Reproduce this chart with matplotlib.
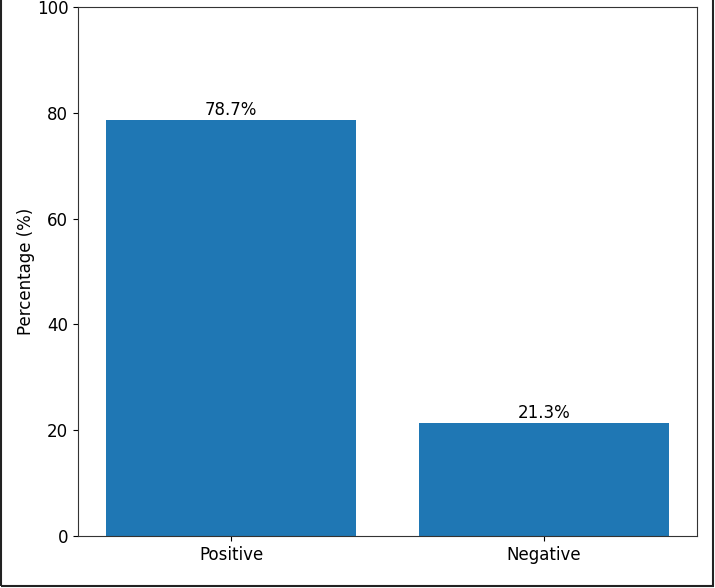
import matplotlib
matplotlib.use("Agg")
import matplotlib.pyplot as plt
from matplotlib.patches import Rectangle

categories = ["Positive", "Negative"]
percentages = [78.7, 21.3]
labels = ["78.7%", "21.3%"]

fig = plt.figure(figsize=(7.15, 5.88), dpi=100)
ax = fig.add_axes([78/715, 52/588, (697-78)/715, (536-7)/588])
bars = ax.bar(categories, percentages, color="#1f77b4", width=0.8)
ax.set_ylim(0, 100)
ax.set_ylabel("Percentage (%)", fontsize=12, labelpad=1)
ax.tick_params(labelsize=12)
for s in ax.spines.values():
    s.set_edgecolor("#333333")
for b, lab in zip(bars, labels):
    ax.text(b.get_x() + b.get_width()/2, b.get_height() + 0.2, lab,
            ha="center", va="bottom", fontsize=12)

fig.patches.append(Rectangle((1/715, 2/588), 712/715, 700/588, transform=fig.transFigure,
                             fill=False, edgecolor="#222222", linewidth=1.5))
fig.savefig("out.png", dpi=100)
